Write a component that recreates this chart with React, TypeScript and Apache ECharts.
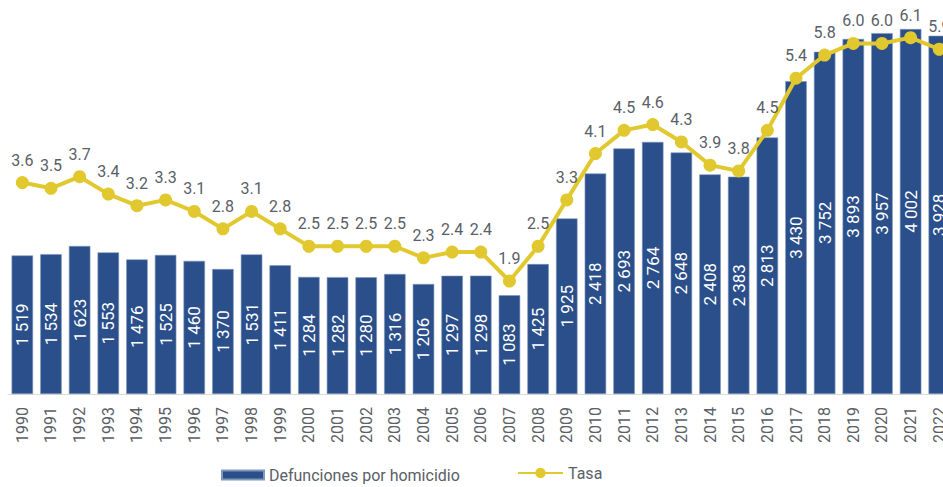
import React, { useEffect, useRef } from "react";
import * as echarts from "echarts";

const years = [
  "1990", "1991", "1992", "1993", "1994", "1995", "1996", "1997", "1998", "1999",
  "2000", "2001", "2002", "2003", "2004", "2005", "2006", "2007", "2008", "2009",
  "2010", "2011", "2012", "2013", "2014", "2015", "2016", "2017", "2018", "2019",
  "2020", "2021", "2022",
];

const defunciones = [
  1519, 1534, 1623, 1553, 1476, 1525, 1460, 1370, 1531, 1411,
  1284, 1282, 1280, 1316, 1206, 1297, 1298, 1083, 1425, 1925,
  2418, 2693, 2764, 2648, 2408, 2383, 2813, 3430, 3752, 3893,
  3957, 4002, 3928,
];

const tasa = [
  3.6, 3.5, 3.7, 3.4, 3.2, 3.3, 3.1, 2.8, 3.1, 2.8,
  2.5, 2.5, 2.5, 2.5, 2.3, 2.4, 2.4, 1.9, 2.5, 3.3,
  4.1, 4.5, 4.6, 4.3, 3.9, 3.8, 4.5, 5.4, 5.8, 6.0,
  6.0, 6.1, 5.9,
];

const BAR_NAME = "Defunciones por homicidio";
const LINE_NAME = "Tasa";
const BAR_COLOR = "#2a4f8a";
const LINE_COLOR = "#e2c82f";
const TEXT_COLOR = "#5a6066";
const FONT = "Roboto, 'Noto Sans', sans-serif";

function fmtThousands(v: number): string {
  return String(v).replace(/\B(?=(\d{3})+(?!\d))/g, " ");
}

export default function App() {
  const ref = useRef<HTMLDivElement>(null);

  useEffect(() => {
    if (!ref.current) return;
    const chart = echarts.init(ref.current, undefined, { renderer: "svg" });
    chart.setOption({
      animation: false,
      textStyle: { fontFamily: FONT },
      grid: { left: 8, top: 0, width: 945.6, height: 394, containLabel: false },
      legend: [
        {
          data: [BAR_NAME],
          left: 216,
          top: 462,
          itemWidth: 42,
          itemHeight: 9,
          icon: "rect",
          itemGap: 8,
          textStyle: { color: TEXT_COLOR, fontSize: 16, fontFamily: FONT },
        },
        {
          data: [LINE_NAME],
          left: 512,
          top: 460,
          itemWidth: 45,
          itemHeight: 13,
          textStyle: { color: TEXT_COLOR, fontSize: 16, fontFamily: FONT },
        },
      ],
      xAxis: {
        type: "category",
        data: years,
        axisLine: { show: true, lineStyle: { color: "#d9d9d9", width: 1 } },
        axisTick: { show: false },
        axisLabel: {
          rotate: 90,
          interval: 0,
          color: TEXT_COLOR,
          fontSize: 16,
          margin: 13,
          fontFamily: FONT,
        },
      },
      yAxis: [
        {
          type: "value",
          min: 0,
          max: 4320,
          show: false,
          splitLine: { show: false },
        },
        {
          type: "value",
          min: -0.05,
          max: 6.75,
          show: false,
          splitLine: { show: false },
        },
      ],
      series: [
        {
          name: BAR_NAME,
          type: "bar",
          data: defunciones,
          yAxisIndex: 0,
          barCategoryGap: "25%",
          itemStyle: { color: BAR_COLOR, borderColor: "#7f97bd", borderWidth: 0.6 },
          label: {
            show: true,
            position: "inside",
            rotate: 90,
            color: "#ffffff",
            fontSize: 17,
            fontFamily: FONT,
            formatter: (p: any) => fmtThousands(p.value),
          },
        },
        {
          name: LINE_NAME,
          type: "line",
          data: tasa,
          yAxisIndex: 1,
          symbol: "circle",
          symbolSize: 13,
          lineStyle: { color: LINE_COLOR, width: 4 },
          itemStyle: { color: LINE_COLOR },
          label: {
            show: true,
            position: "top",
            distance: 8,
            color: TEXT_COLOR,
            fontSize: 16,
            fontFamily: FONT,
            formatter: (p: any) => Number(p.value).toFixed(1),
          },
          z: 3,
        },
      ],
    });
    return () => chart.dispose();
  }, []);

  return (
    <div
      style={{
        position: "absolute",
        left: 0,
        top: 0,
        width: 943,
        height: 487,
        overflow: "hidden",
        background: "#ffffff",
      }}
    >
      <div ref={ref} style={{ width: 970, height: 487 }} />
    </div>
  );
}
